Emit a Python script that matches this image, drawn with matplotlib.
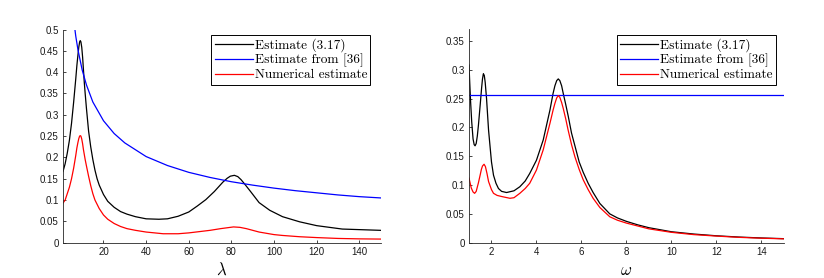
import matplotlib
matplotlib.use("Agg")
import matplotlib.pyplot as plt

# ---- Left panel data (lambda) ----
lam_black = [1, 2, 3, 4, 5, 6, 7, 7.5, 8, 8.4, 8.8, 9.1, 9.4, 9.8, 10.2, 10.6, 11, 11.4, 12,
             13, 14, 15, 16, 17, 18, 20, 22, 25, 28, 31, 35, 40, 46, 50, 55, 60, 64, 68, 72,
             76, 78, 79.5, 81.4, 83, 84.5, 86, 89, 93, 98, 104, 112, 120, 132, 150]
est_black = [0.167, 0.185, 0.21, 0.24, 0.28, 0.33, 0.385, 0.415, 0.44, 0.458, 0.471, 0.474,
             0.471, 0.458, 0.435, 0.405, 0.375, 0.35, 0.315, 0.262, 0.225, 0.195, 0.17, 0.15,
             0.135, 0.113, 0.097, 0.083, 0.073, 0.067, 0.061, 0.056, 0.055, 0.056, 0.062,
             0.072, 0.086, 0.101, 0.12, 0.142, 0.151, 0.156, 0.158, 0.155, 0.148, 0.139,
             0.12, 0.094, 0.076, 0.061, 0.049, 0.04, 0.032, 0.029]

lam_blue = [5, 6, 7, 8, 10, 12, 15, 20, 25, 30, 40, 50, 60, 70, 80, 90, 100, 110, 120, 130,
            140, 150]
est_blue = [0.572, 0.523, 0.484, 0.453, 0.405, 0.37, 0.33, 0.286, 0.256, 0.234, 0.202, 0.181,
            0.165, 0.153, 0.143, 0.135, 0.128, 0.122, 0.117, 0.112, 0.108, 0.105]

lam_red = [1, 2, 3, 4, 5, 6, 7, 7.5, 8, 8.4, 8.8, 9.1, 9.4, 9.8, 10.2, 10.6, 11.4, 12, 13, 14,
           15, 16, 17, 18, 20, 22, 25, 28, 31, 35, 40, 48, 55, 60, 65, 70, 75, 78, 81, 84,
           87, 90, 93, 100, 104, 112, 120, 130, 140, 150]
est_red = [0.093, 0.10, 0.115, 0.13, 0.15, 0.175, 0.205, 0.222, 0.235, 0.244, 0.25, 0.251,
           0.25, 0.243, 0.232, 0.218, 0.195, 0.18, 0.156, 0.134, 0.115, 0.10, 0.09, 0.08,
           0.065, 0.055, 0.045, 0.038, 0.033, 0.029, 0.025, 0.021, 0.021, 0.023, 0.026,
           0.029, 0.033, 0.035, 0.037, 0.036, 0.033, 0.029, 0.025, 0.019, 0.017, 0.014,
           0.012, 0.010, 0.009, 0.0085]

# ---- Right panel data (omega) ----
om_black = [1.0, 1.03, 1.07, 1.12, 1.18, 1.23, 1.27, 1.32, 1.37, 1.42, 1.5, 1.56, 1.6, 1.64,
            1.68, 1.72, 1.78, 1.87, 2.0, 2.09, 2.2, 2.31, 2.45, 2.67, 3.0, 3.26, 3.5, 3.7,
            4.0, 4.3, 4.6, 4.74, 4.82, 4.9, 4.97, 5.04, 5.12, 5.19, 5.3, 5.41, 5.56, 5.71,
            5.9, 6.08, 6.3, 6.52, 6.82, 7.26, 7.6, 8, 8.5, 9, 10, 11, 12, 13, 14, 15]
est_omb = [0.308, 0.28, 0.245, 0.21, 0.18, 0.17, 0.168, 0.172, 0.185, 0.204, 0.24, 0.268,
           0.284, 0.293, 0.29, 0.278, 0.25, 0.195, 0.14, 0.117, 0.103, 0.094, 0.089, 0.087,
           0.09, 0.097, 0.107, 0.12, 0.143, 0.178, 0.23, 0.259, 0.272, 0.281, 0.284, 0.281,
           0.272, 0.259, 0.24, 0.22, 0.19, 0.168, 0.14, 0.122, 0.103, 0.087, 0.068, 0.05,
           0.043, 0.037, 0.031, 0.026, 0.019, 0.015, 0.012, 0.0098, 0.0082, 0.007]

om_blue = [1, 15]
est_omblue = [0.256, 0.256]

om_red = [1.0, 1.1, 1.18, 1.25, 1.32, 1.42, 1.5, 1.55, 1.6, 1.67, 1.73, 1.8, 1.87, 2.0, 2.09,
          2.25, 2.46, 2.82, 3.0, 3.26, 3.5, 3.7, 4.0, 4.3, 4.6, 4.74, 4.82, 4.9, 4.97, 5.04,
          5.12, 5.19, 5.3, 5.41, 5.56, 5.71, 5.9, 6.08, 6.3, 6.52, 6.82, 7.26, 7.6, 8, 8.5,
          9, 10, 11, 12, 13, 14, 15]
est_omr = [0.112, 0.095, 0.088, 0.0856, 0.089, 0.104, 0.118, 0.127, 0.133, 0.136, 0.132,
           0.12, 0.106, 0.092, 0.0856, 0.082, 0.080, 0.077, 0.078, 0.0856, 0.094, 0.103,
           0.126, 0.161, 0.207, 0.23, 0.2415, 0.251, 0.255, 0.252, 0.243, 0.233, 0.215,
           0.195, 0.17, 0.149, 0.127, 0.109, 0.092, 0.077, 0.061, 0.045, 0.039, 0.034,
           0.029, 0.024, 0.018, 0.014, 0.0115, 0.0093, 0.0078, 0.0067]

labels = ["Estimate (3.17)", "Estimate from [36]", "Numerical estimate"]
left_xticks = [20, 40, 60, 80, 100, 120, 140]
left_yticks = [0, 0.05, 0.1, 0.15, 0.2, 0.25, 0.3, 0.35, 0.4, 0.45, 0.5]
right_xticks = [2, 4, 6, 8, 10, 12, 14]
right_yticks = [0, 0.05, 0.1, 0.15, 0.2, 0.25, 0.3, 0.35]

plt.rcParams['mathtext.fontset'] = 'cm'
W, H = 824, 278
fig = plt.figure(figsize=(W / 100, H / 100), dpi=100)

axcol = '#262626'

def style(ax, xticks, yticks):
    for s in ['top', 'right']:
        ax.spines[s].set_visible(False)
    for s in ['left', 'bottom']:
        ax.spines[s].set_color(axcol)
        ax.spines[s].set_linewidth(0.6)
    ax.set_xticks(xticks)
    ax.set_yticks(yticks)
    ax.set_xticklabels(["%g" % v for v in xticks])
    ax.set_yticklabels(["%g" % v for v in yticks])
    ax.tick_params(direction='in', length=2.5, width=0.6, color=axcol,
                   labelsize=7, pad=3, labelcolor='#1a1a1a')
    for t in ax.get_xticklabels() + ax.get_yticklabels():
        t.set_fontfamily('Liberation Sans')

def legend(ax, handles, anchor):
    leg = ax.legend(handles, labels, loc='upper right', bbox_to_anchor=anchor,
                    borderaxespad=0, prop={'family': 'cmr10', 'size': 9.6}, fancybox=False,
                    edgecolor='black', framealpha=1, handlelength=2.85, handletextpad=0.15,
                    labelspacing=0.12, borderpad=0.25)
    leg.get_frame().set_linewidth(0.7)
    return leg

lw = 0.9
# left axes
ax1 = fig.add_axes([63 / W, (H - 242.7) / H, (380.6 - 63) / W, (242.7 - 29.5) / H])
l1, = ax1.plot(lam_black, est_black, color='black', lw=lw)
l2, = ax1.plot(lam_blue, est_blue, color='#0000ff', lw=lw)
l3, = ax1.plot(lam_red, est_red, color='#ff0000', lw=lw)
ax1.set_xlim(1, 150)
ax1.set_ylim(0, 0.5)
style(ax1, left_xticks, left_yticks)
ax1.set_xlabel(r'$\lambda$', fontsize=12, labelpad=3)
legend(ax1, [l1, l2, l3], (0.968, 0.974))

# right axes
ax2 = fig.add_axes([469 / W, (H - 242.7) / H, (783.8 - 469) / W, (242.7 - 29.3) / H])
m1, = ax2.plot(om_black, est_omb, color='black', lw=lw)
m2, = ax2.plot(om_blue, est_omblue, color='#0000ff', lw=lw)
m3, = ax2.plot(om_red, est_omr, color='#ff0000', lw=lw)
ax2.set_xlim(1, 15)
ax2.set_ylim(0, 0.37)
style(ax2, right_xticks, right_yticks)
ax2.set_xlabel(r'$\omega$', fontsize=12, labelpad=3)
legend(ax2, [m1, m2, m3], (0.975, 0.973))

fig.savefig('out.png', dpi=100)
